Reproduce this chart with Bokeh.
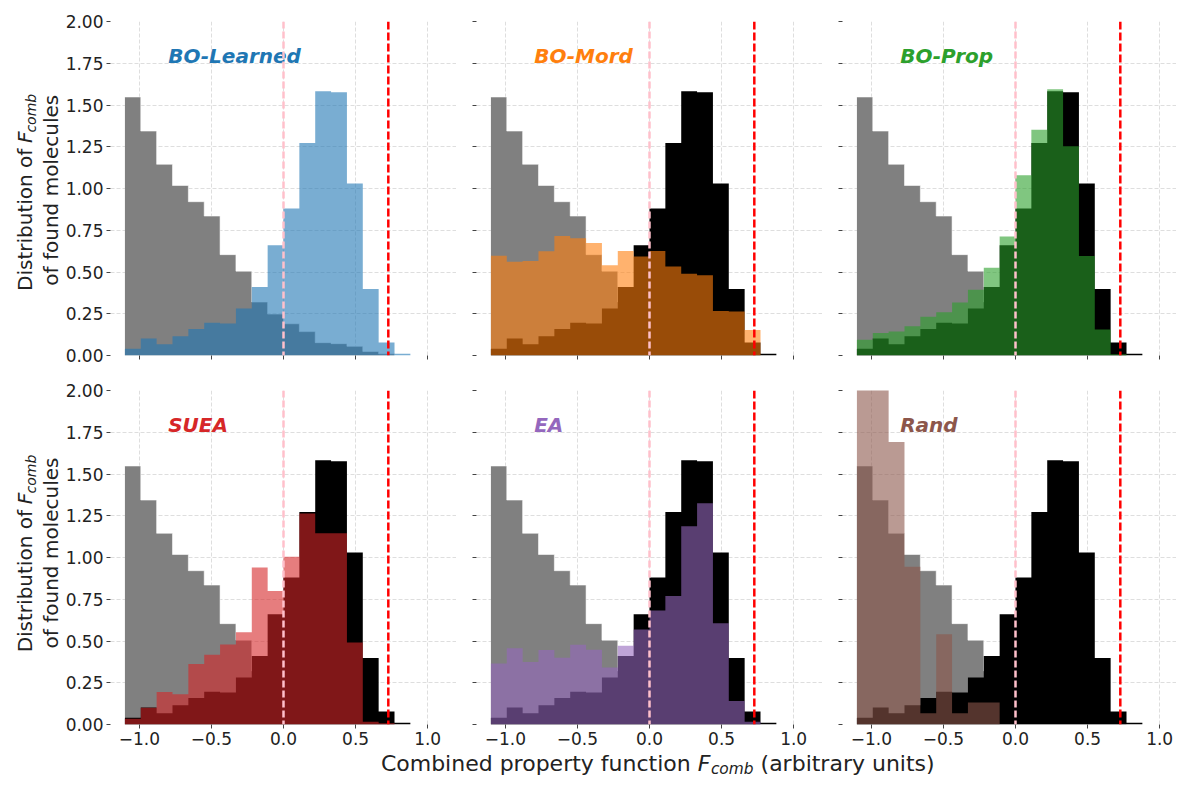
import math
from bokeh.plotting import figure
from bokeh.layouts import gridplot, column
from bokeh.models import Range1d, Span, FixedTicker, CustomJSTickFormatter
from bokeh.core.properties import value
from bokeh.embed import file_html
from bokeh.resources import INLINE

# ---------------- data ----------------
bin_edges = [-1.10, -0.99, -0.88, -0.77, -0.66, -0.55, -0.44, -0.33, -0.22, -0.11,
             0.00, 0.11, 0.22, 0.33, 0.44, 0.55, 0.66, 0.77, 0.88]

dataset_all = [1.548, 1.344, 1.145, 1.018, 0.921, 0.835, 0.604, 0.505, 0.320, 0.248,
               0.190, 0.143, 0.077, 0.071, 0.055, 0.024, 0.010, 0.000]
bo_learned = [0.040, 0.102, 0.067, 0.115, 0.159, 0.196, 0.191, 0.282, 0.410, 0.660,
              0.880, 1.272, 1.583, 1.577, 1.030, 0.398, 0.078, 0.010]
bo_mord = [0.597, 0.562, 0.566, 0.625, 0.716, 0.702, 0.673, 0.541, 0.626, 0.593,
           0.626, 0.533, 0.490, 0.480, 0.267, 0.263, 0.152, 0.000]
bo_prop = [0.094, 0.134, 0.144, 0.175, 0.232, 0.259, 0.317, 0.393, 0.525, 0.712,
           1.080, 1.352, 1.595, 1.253, 0.596, 0.156, 0.008, 0.000]
suea = [0.035, 0.100, 0.195, 0.181, 0.363, 0.417, 0.479, 0.552, 0.940, 0.799,
        1.004, 1.263, 1.145, 1.145, 0.491, 0.016, 0.008, 0.000]
ea = [0.366, 0.457, 0.374, 0.446, 0.399, 0.477, 0.448, 0.341, 0.471, 0.569,
      0.683, 0.769, 1.187, 1.325, 0.607, 0.140, 0.016, 0.000]
rand = [2.400, 2.250, 1.691, 0.944, 0.068, 0.541, 0.068, 0.132, 0.132, 0.000,
        0.000, 0.000, 0.000, 0.000, 0.000, 0.000, 0.000, 0.000]

methods = ["BO-Learned", "BO-Mord", "BO-Prop", "SUEA", "EA", "Rand"]
method_values = [bo_learned, bo_mord, bo_prop, suea, ea, rand]
method_colors = ["#1f77b4", "#ff7f0e", "#2ca02c", "#d62728", "#9467bd", "#8c564b"]

x_ticks = [-1.0, -0.5, 0.0, 0.5, 1.0]
y_ticks = [0.0, 0.25, 0.5, 0.75, 1.0, 1.25, 1.5, 1.75, 2.0]
zero_line = 0.0
threshold_line = 0.727
label_x, label_y = -0.8, 1.75

# ---------------- layout constants ----------------
FONT = "DejaVu Sans"
YLAB_W = 62
LEFT0 = 48
GAP = 20
FRAME_W = 346
LAST_W = 334
FRAME_H = 334
X_START, X_SPAN = -1.2, 2.4
TOPS = [21, 8]
BOTTOMS = [27, 28]
TOTAL_W = YLAB_W + LEFT0 + FRAME_W + GAP + FRAME_W + GAP + LAST_W
PX_Y = 2.0 / FRAME_H          # data units per pixel (vertical)


def stepped(vals):
    return list(vals) + [vals[-1]]


def make_panel(idx, row, col):
    fw = FRAME_W if col < 2 else LAST_W
    x_end = X_START + X_SPAN * fw / FRAME_W
    p = figure(frame_width=fw, frame_height=FRAME_H,
               x_range=Range1d(X_START, x_end), y_range=Range1d(0, 2.0),
               output_backend="svg", toolbar_location=None,
               min_border_left=LEFT0 if col == 0 else GAP, min_border_right=0,
               min_border_top=TOPS[row], min_border_bottom=BOTTOMS[row])
    p.outline_line_color = None
    p.background_fill_color = "white"
    p.border_fill_color = "white"

    p.xaxis.ticker = FixedTicker(ticks=x_ticks)
    p.yaxis.ticker = FixedTicker(ticks=y_ticks)
    p.axis.axis_line_color = None
    p.axis.major_tick_line_color = "#444444"
    p.axis.major_tick_out = 4
    p.axis.major_tick_in = 0
    p.axis.minor_tick_line_color = None
    p.axis.major_label_standoff = 3
    p.axis.major_label_text_font = FONT
    p.axis.major_label_text_font_size = "17px"
    p.axis.major_label_text_color = "#222222"

    if row == 1:
        p.xaxis.formatter = CustomJSTickFormatter(
            code="return tick.toFixed(1).replace('-', '\u2212')")
    else:
        p.xaxis.formatter = CustomJSTickFormatter(code="return ''")
        p.xaxis.major_label_text_font_size = "1px"
    if col == 0:
        p.yaxis.formatter = CustomJSTickFormatter(code="return tick.toFixed(2)")
    else:
        p.yaxis.formatter = CustomJSTickFormatter(code="return ''")
        p.yaxis.major_label_text_font_size = "1px"

    p.grid.grid_line_color = "#dedede"
    p.grid.grid_line_dash = "4 2"
    p.grid.grid_line_width = 1

    # dataset distribution (gray)
    p.varea_step(x=bin_edges, y1=[0] * len(bin_edges), y2=stepped(dataset_all),
                 step_mode="after", fill_color="#808080", fill_alpha=1.0)
    p.step(x=bin_edges, y=stepped(dataset_all), mode="after",
           line_color="white", line_alpha=0.55, line_width=1)
    # reference BO-Learned distribution (black) in the other panels
    if idx != 0:
        p.varea_step(x=bin_edges, y1=[0] * len(bin_edges), y2=stepped(bo_learned),
                     step_mode="after", fill_color="#000000", fill_alpha=1.0)
    # distribution of the method itself
    p.varea_step(x=bin_edges, y1=[0] * len(bin_edges), y2=stepped(method_values[idx]),
                 step_mode="after", fill_color=method_colors[idx], fill_alpha=0.6)

    p.add_layout(Span(location=zero_line, dimension="height", line_color="pink",
                      line_dash="7 3", line_width=2.5))
    p.add_layout(Span(location=threshold_line, dimension="height", line_color="red",
                      line_dash="8 3", line_width=2.5))

    # label sits on y = label_y (anchor = centre of the capital letters)
    p.text(x=[label_x], y=[label_y + 7.3 * PX_Y], text=[methods[idx]],
           text_color=method_colors[idx], text_font=value(FONT),
           text_font_style="bold italic", text_font_size="20px",
           text_align="left", text_baseline="middle")
    return p


def ylabel_fig(row):
    h = TOPS[row] + FRAME_H + BOTTOMS[row]
    p = figure(width=YLAB_W, height=h, x_range=Range1d(0, YLAB_W), y_range=Range1d(0, h),
               output_backend="svg", toolbar_location=None, min_border=0,
               x_axis_location=None, y_axis_location=None)
    p.outline_line_color = None
    p.grid.visible = False
    p.border_fill_color = "white"
    cy = h - TOPS[row] - FRAME_H / 2
    fs = 20
    total = (7.116 + 0.318 + 0.60 + 1.94) * fs
    s = cy - total / 2
    end1 = s + 7.116 * fs
    f_pos = end1 + 0.318 * fs
    c_pos = f_pos + 0.60 * fs
    m1, m2 = 24, 50          # centre lines of the two label lines
    common = dict(angle=math.pi / 2, text_font=value(FONT), text_color="#222222",
                  text_baseline="middle")
    p.text(x=[m1], y=[end1], text=["Distribution of"], text_font_size=f"{fs}px",
           text_align="right", **common)
    p.text(x=[m1], y=[f_pos], text=["F"], text_font_size=f"{fs}px",
           text_font_style="italic", text_align="left", **common)
    p.text(x=[m1 + 0.3 * fs], y=[c_pos], text=["comb"],
           text_font_size=f"{0.7 * fs:.1f}px", text_font_style="italic",
           text_align="left", **common)
    p.text(x=[m2], y=[cy - 5], text=["of found molecules"], text_font_size=f"{fs}px",
           text_align="center", **common)
    return p


rows = []
for r in range(2):
    row = [ylabel_fig(r)]
    for c in range(3):
        row.append(make_panel(r * 3 + c, r, c))
    rows.append(row)

grid = gridplot(rows, toolbar_location=None)

xt_h = 26
xt = figure(width=TOTAL_W, height=xt_h, x_range=Range1d(0, TOTAL_W), y_range=Range1d(0, xt_h),
            output_backend="svg", toolbar_location=None, min_border=0,
            x_axis_location=None, y_axis_location=None)
xt.outline_line_color = None
xt.grid.visible = False
xt.border_fill_color = "white"
fs = 22
cx = 657
total = (14.106 + 0.318 + 0.60 + 1.94 + 0.318 + 7.913) * fs
s = cx - total / 2
end1 = s + 14.106 * fs
f_pos = end1 + 0.318 * fs
c_pos = f_pos + 0.60 * fs
a_pos = c_pos + 1.94 * fs + 0.318 * fs
mid = 15.5
tcommon = dict(text_font=value(FONT), text_color="#222222", text_baseline="middle")
xt.text(x=[end1], y=[mid], text=["Combined property function"], text_font_size=f"{fs}px",
        text_align="right", **tcommon)
xt.text(x=[f_pos], y=[mid], text=["F"], text_font_size=f"{fs}px", text_font_style="italic",
        text_align="left", **tcommon)
xt.text(x=[c_pos], y=[mid - 0.25 * fs], text=["comb"], text_font_size=f"{0.7 * fs:.1f}px",
        text_font_style="italic", text_align="left", **tcommon)
xt.text(x=[a_pos], y=[mid], text=["(arbitrary units)"], text_font_size=f"{fs}px",
        text_align="left", **tcommon)

layout = column(grid, xt)
open("out.html", "w").write(file_html(layout, INLINE))
